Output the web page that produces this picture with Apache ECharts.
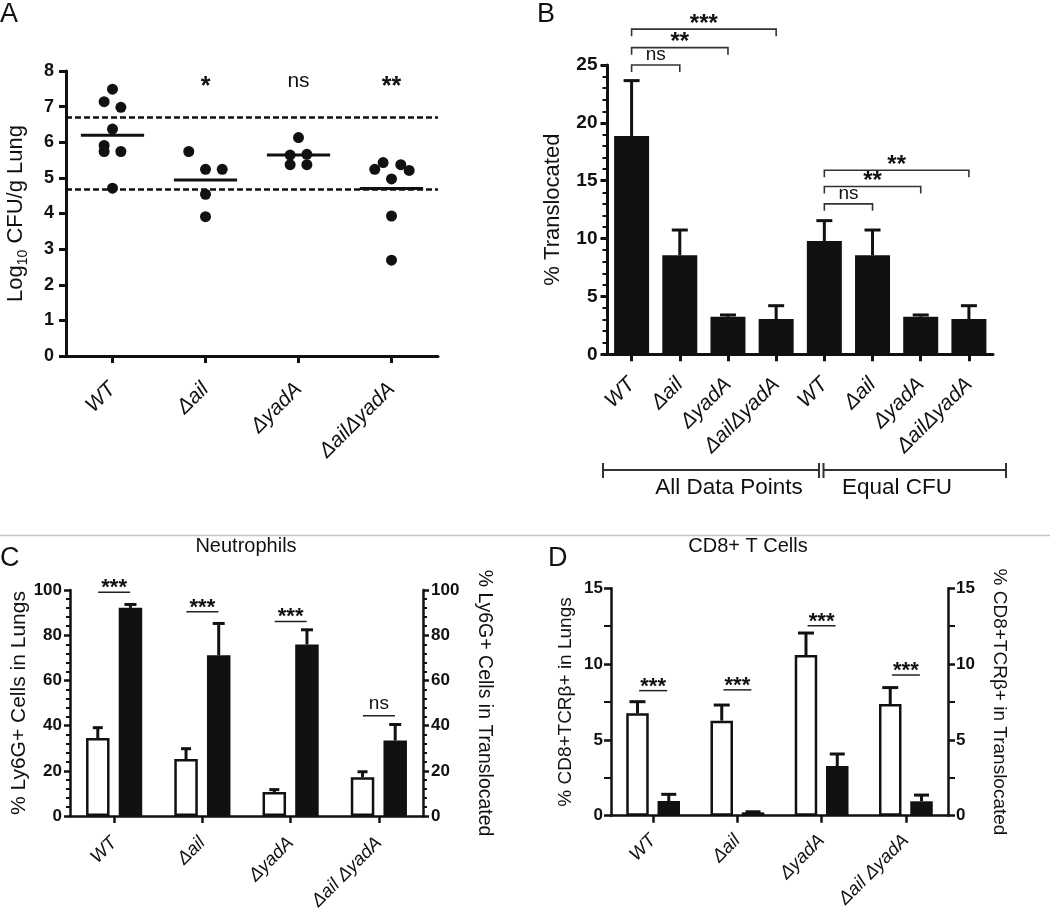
<!DOCTYPE html>
<html><head><meta charset="utf-8">
<script src="https://cdn.jsdelivr.net/npm/echarts@6/dist/echarts.min.js"></script>
<style>html,body{margin:0;padding:0;background:#fff}#c{width:1050px;height:913px}</style>
</head><body><div id="c"></div>
<script>
// ---------- DATA ----------
const categories = ['WT', 'Δail', 'ΔyadA', 'ΔailΔyadA'];
const categoriesCD = ['WT', 'Δail', 'ΔyadA', 'Δail ΔyadA'];
const categoriesB = ['WT', 'Δail', 'ΔyadA', 'ΔailΔyadA', 'WT', 'Δail', 'ΔyadA', 'ΔailΔyadA'];

// Panel A: each mouse = group index, horizontal jitter (category units), log10 CFU/g lung
const aGroup  = [0, 0, 0, 0, 0, 0, 0, 0,   1, 1, 1, 1, 1,   2, 2, 2, 2, 2,   3, 3, 3, 3, 3, 3, 3];
const aJitter = [0, -0.09, 0.09, 0, -0.09, -0.09, 0.09, 0,   -0.18, 0, 0.18, 0, 0,   0, -0.09, 0.09, -0.09, 0.09,   -0.18, -0.09, 0.1, 0.19, 0, 0, 0];
const aValues = [7.49, 7.14, 6.98, 6.37, 5.91, 5.74, 5.74, 4.71,   5.74, 5.24, 5.24, 4.54, 3.91,   6.13, 5.64, 5.66, 5.37, 5.37,   5.24, 5.43, 5.37, 5.21, 4.97, 3.93, 2.69];
const aMeans = [6.2, 4.94, 5.64, 4.7];
const aRefLines = [6.69, 4.69];
const aSigLabels = ['', '*', 'ns', '**'];
const aSigLevel = 7.7;

// Panel B: % translocated, mean and top of error bar
const bValues = [18.87, 8.55, 3.25, 3.05, 9.79, 8.55, 3.25, 3.05];
const bErrTop = [23.65, 10.74, 3.4, 4.2, 11.55, 10.74, 3.4, 4.2];
// [from category, to category, level, label]
const bBrackets = [[0, 1, 25.0, 'ns'], [0, 2, 26.5, '**'], [0, 3, 28.1, '***'],
                   [4, 5, 13.0, 'ns'], [4, 6, 14.5, '**'], [4, 7, 15.9, '**']];
const bGroupNames = ['All Data Points', 'Equal CFU'];

// Panel C: Neutrophils
const cLungs = [34.5, 25.2, 10.6, 17.2];
const cLungsErr = [39.1, 29.8, 11.7, 19.6];
const cTrans = [92.1, 71.1, 75.9, 33.4];
const cTransErr = [93.6, 85.2, 82.4, 40.5];
const cSigLevel = [99, 90.4, 86.1, 44.4];
const cSig = ['***', '***', '***', 'ns'];

// Panel D: CD8+ T cells
const dLungs = [6.75, 6.27, 10.6, 7.37];
const dLungsErr = [7.52, 7.3, 12.05, 8.45];
const dTrans = [0.97, 0.22, 3.28, 0.95];
const dTransErr = [1.41, 0.26, 4.07, 1.36];
const dSigLevel = [8.25, 8.3, 12.53, 9.28];
const dSig = ['***', '***', '***', '***'];

// ---------- STYLE ----------
const F = '"Liberation Sans", Arial, Helvetica, sans-serif';
const INK = '#111';

function catAxis(grid, data, o) {
  return {
    gridIndex: grid, type: 'category', data: data,
    axisLine: { show: true, onZero: false, lineStyle: { color: INK, width: o.lw } },
    axisTick: { show: true, alignWithLabel: true, length: 7, lineStyle: { color: INK, width: o.lw } },
    axisLabel: { interval: 0, rotate: 45, fontSize: o.fs, fontStyle: 'italic', fontFamily: F, color: INK, margin: o.margin },
    splitLine: { show: false }
  };
}
function valAxis(grid, o) {
  const ax = {
    gridIndex: grid, type: 'value', min: o.min, max: o.max, interval: o.interval,
    position: o.position || 'left',
    axisLine: { show: true, onZero: false, lineStyle: { color: INK, width: o.lw } },
    axisTick: { show: true, length: o.tick, lineStyle: { color: INK, width: o.lw } },
    axisLabel: { fontSize: o.fs, fontWeight: 'bold', fontFamily: F, color: INK, margin: o.margin },
    splitLine: { show: false },
    name: o.name, nameLocation: 'middle', nameGap: o.nameGap,
    nameTextStyle: Object.assign({ fontSize: o.nfs, fontFamily: F, color: INK }, o.nameStyle || {})
  };
  if (o.nameRotate !== undefined) ax.nameRotate = o.nameRotate;
  if (o.minor) ax.minorTick = { show: true, splitNumber: o.minor, length: o.minorLen, lineStyle: { color: INK, width: 2 } };
  return ax;
}

function errorRender(offsetPx, cap) {
  return function (params, api) {
    const i = api.value(0);
    const p0 = api.coord([i, api.value(1)]);
    const p1 = api.coord([i, api.value(2)]);
    const x = p0[0] + offsetPx;
    return { type: 'group', children: [
      { type: 'line', shape: { x1: x, y1: p0[1], x2: x, y2: p1[1] }, style: { stroke: INK, lineWidth: 3 } },
      { type: 'line', shape: { x1: x - cap / 2, y1: p1[1], x2: x + cap / 2, y2: p1[1] }, style: { stroke: INK, lineWidth: 3 } }
    ] };
  };
}
function sigRender(labels, halfLen) {
  return function (params, api) {
    const i = api.value(0);
    const p = api.coord([i, api.value(1)]);
    const lab = labels[params.dataIndex];
    const star = lab.indexOf('*') >= 0;
    return { type: 'group', children: [
      { type: 'line', shape: { x1: p[0] - halfLen, y1: p[1], x2: p[0] + halfLen, y2: p[1] }, style: { stroke: '#222', lineWidth: 1.5 } },
      { type: 'text', style: { text: lab, x: p[0], y: star ? p[1] + 7 : p[1] - 2, align: 'center', verticalAlign: 'bottom',
        textAlign: 'center', textVerticalAlign: 'bottom', fill: INK,
        font: (star ? 'bold 22px ' : '19px ') + F } }
    ] };
  };
}

const chart = echarts.init(document.getElementById('c'), null, { renderer: 'canvas' });

const BW_C = 23.5, GAP_C = 0.39, BW_D = 22.5, GAP_D = 0.39;

const option = {
  animation: false,
  backgroundColor: '#fff',
  textStyle: { fontFamily: F },
  grid: [
    { left: 66, top: 71, width: 372, height: 285 },
    { left: 607.5, top: 65, width: 385.5, height: 289.3 },
    { left: 70, top: 590, width: 353, height: 232.7 },
    { left: 611, top: 588.3, width: 337, height: 227.4 }
  ],
  xAxis: [
    catAxis(0, categories, { lw: 3, fs: 21, margin: 30 }),
    { gridIndex: 0, type: 'value', min: -0.5, max: 3.5, show: false },
    catAxis(1, categoriesB, { lw: 3, fs: 21, margin: 27 }),
    catAxis(2, categoriesCD, { lw: 2.5, fs: 18.5, margin: 24 }),
    catAxis(3, categoriesCD, { lw: 2.5, fs: 18.5, margin: 22 })
  ],
  yAxis: [
    valAxis(0, { min: 0, max: 8, interval: 1, lw: 3, tick: 7, fs: 18, margin: 12,
      name: '{a|Log}{s|10}{a| CFU/g Lung}', nameGap: 36, nfs: 22,
      nameStyle: { rich: { a: { fontSize: 22, fontFamily: F, color: INK, lineHeight: 28 },
                           s: { fontSize: 14, fontFamily: F, color: INK, lineHeight: 14, verticalAlign: 'bottom' } } } }),
    valAxis(1, { min: 0, max: 25, interval: 5, lw: 3, tick: 7, fs: 19, margin: 10, minor: 5, minorLen: 5,
      name: '% Translocated', nameGap: 44, nfs: 22 }),
    valAxis(2, { min: 0, max: 100, interval: 20, lw: 2.5, tick: 6, fs: 17, margin: 8, minor: 5, minorLen: 4,
      name: '% Ly6G+ Cells in Lungs', nameGap: 37, nfs: 21 }),
    valAxis(2, { min: 0, max: 100, interval: 20, lw: 2.5, tick: 6, fs: 17, margin: 8, minor: 5, minorLen: 4, position: 'right',
      name: '% Ly6G+ Cells in Translocated', nameGap: 51, nfs: 19.5, nameRotate: -90 }),
    valAxis(3, { min: 0, max: 15, interval: 5, lw: 2.5, tick: 7, fs: 17, margin: 8, minor: 2, minorLen: 7,
      name: '% CD8+TCRβ+ in Lungs', nameGap: 36, nfs: 19 }),
    valAxis(3, { min: 0, max: 15, interval: 5, lw: 2.5, tick: 7, fs: 17, margin: 8, minor: 2, minorLen: 7, position: 'right',
      name: '% CD8+TCRβ+ in Translocated', nameGap: 42, nfs: 19, nameRotate: -90 })
  ],
  series: [
    // ----- A -----
    { type: 'scatter', xAxisIndex: 1, yAxisIndex: 0, symbolSize: 11, itemStyle: { color: INK, opacity: 1 },
      data: aValues.map((v, i) => [aGroup[i] + aJitter[i], v]),
      markLine: { silent: true, symbol: 'none', label: { show: false },
        lineStyle: { color: INK, width: 2.5, type: [6, 3] },
        data: aRefLines.map(v => ({ yAxis: v })) } },
    { type: 'custom', xAxisIndex: 1, yAxisIndex: 0, clip: false,
      data: aMeans.map((m, i) => [i, m]),
      renderItem: (params, api) => {
        const i = api.value(0), m = api.value(1);
        const a = api.coord([i - 0.34, m]), b = api.coord([i + 0.34, m]);
        return { type: 'line', shape: { x1: a[0], y1: a[1], x2: b[0], y2: b[1] }, style: { stroke: INK, lineWidth: 3 } };
      } },
    { type: 'custom', xAxisIndex: 1, yAxisIndex: 0, clip: false,
      data: aSigLabels.map((s, i) => [i, aSigLevel]),
      renderItem: (params, api) => {
        const p = api.coord([api.value(0), api.value(1)]);
        const lab = aSigLabels[params.dataIndex];
        const star = lab.indexOf('*') >= 0;
        return { type: 'text', style: { text: lab, x: p[0], y: star ? p[1] + 5 : p[1], align: 'center', verticalAlign: 'middle',
          textAlign: 'center', textVerticalAlign: 'middle', fill: INK, font: (star ? 'bold 25px ' : '21px ') + F } };
      } },
    // ----- B -----
    { type: 'bar', xAxisIndex: 2, yAxisIndex: 1, barWidth: 35, itemStyle: { color: INK }, data: bValues, z: 3 },
    { type: 'custom', xAxisIndex: 2, yAxisIndex: 1, clip: false, z: 2,
      data: bValues.map((v, i) => [i, v, bErrTop[i]]), renderItem: errorRender(0, 16) },
    { type: 'custom', xAxisIndex: 2, yAxisIndex: 1, clip: false,
      data: bBrackets.map(b => [b[0], b[1], b[2]]),
      renderItem: (params, api) => {
        const a = api.coord([api.value(0), api.value(2)]);
        const b = api.coord([api.value(1), api.value(2)]);
        const lab = bBrackets[params.dataIndex][3];
        const star = lab.indexOf('*') >= 0;
        const leg = 7;
        return { type: 'group', children: [
          { type: 'polyline', shape: { points: [[a[0], a[1] + leg], [a[0], a[1]], [b[0], b[1]], [b[0], b[1] + leg]] },
            style: { stroke: '#333', lineWidth: 1.6, fill: null } },
          { type: 'text', style: { text: lab, x: (a[0] + b[0]) / 2, y: star ? a[1] + 7 : a[1] - 1, align: 'center', verticalAlign: 'bottom',
            textAlign: 'center', textVerticalAlign: 'bottom', fill: INK, font: (star ? 'bold 24px ' : '19px ') + F } }
        ] };
      } },
    // ----- C -----
    { type: 'bar', xAxisIndex: 3, yAxisIndex: 2, barWidth: BW_C, barGap: (GAP_C * 100) + '%', z: 3,
      itemStyle: { color: '#fff', borderColor: INK, borderWidth: 2.5 }, data: cLungs },
    { type: 'bar', xAxisIndex: 3, yAxisIndex: 2, barWidth: BW_C, barGap: (GAP_C * 100) + '%', z: 3,
      itemStyle: { color: INK }, data: cTrans },
    { type: 'custom', xAxisIndex: 3, yAxisIndex: 2, clip: false, z: 2,
      data: cLungs.map((v, i) => [i, v, cLungsErr[i]]), renderItem: errorRender(-BW_C * (1 + GAP_C) / 2, 10) },
    { type: 'custom', xAxisIndex: 3, yAxisIndex: 2, clip: false, z: 2,
      data: cTrans.map((v, i) => [i, v, cTransErr[i]]), renderItem: errorRender(BW_C * (1 + GAP_C) / 2, 12) },
    { type: 'custom', xAxisIndex: 3, yAxisIndex: 2, clip: false,
      data: cSigLevel.map((v, i) => [i, v]), renderItem: sigRender(cSig, 16) },
    // ----- D -----
    { type: 'bar', xAxisIndex: 4, yAxisIndex: 4, barWidth: BW_D, barGap: (GAP_D * 100) + '%', z: 3,
      itemStyle: { color: '#fff', borderColor: INK, borderWidth: 2.5 }, data: dLungs },
    { type: 'bar', xAxisIndex: 4, yAxisIndex: 4, barWidth: BW_D, barGap: (GAP_D * 100) + '%', z: 3,
      itemStyle: { color: INK }, data: dTrans },
    { type: 'custom', xAxisIndex: 4, yAxisIndex: 4, clip: false, z: 2,
      data: dLungs.map((v, i) => [i, v, dLungsErr[i]]), renderItem: errorRender(-BW_D * (1 + GAP_D) / 2, 16) },
    { type: 'custom', xAxisIndex: 4, yAxisIndex: 4, clip: false, z: 2,
      data: dTrans.map((v, i) => [i, v, dTransErr[i]]), renderItem: errorRender(BW_D * (1 + GAP_D) / 2, 15) },
    { type: 'custom', xAxisIndex: 4, yAxisIndex: 4, clip: false,
      data: dSigLevel.map((v, i) => [i, v]), renderItem: sigRender(dSig, 14) }
  ],
  graphic: [
    { type: 'text', left: 0, top: 1, style: { text: 'A', font: '27px ' + F, fill: INK } },
    { type: 'text', left: 537, top: 1, style: { text: 'B', font: '27px ' + F, fill: INK } },
    { type: 'text', left: 0, top: 545, style: { text: 'C', font: '27px ' + F, fill: INK } },
    { type: 'text', left: 548, top: 545, style: { text: 'D', font: '27px ' + F, fill: INK } },
    { type: 'line', shape: { x1: 0, y1: 535.5, x2: 1050, y2: 535.5 }, style: { stroke: '#c4c4c4', lineWidth: 1.5 } },
    { type: 'text', x: 246, y: 546, style: { text: 'Neutrophils', font: '20px ' + F, fill: INK, align: 'center', verticalAlign: 'middle' } },
    { type: 'text', x: 748, y: 546, style: { text: 'CD8+ T Cells', font: '20px ' + F, fill: INK, align: 'center', verticalAlign: 'middle' } },
    // B group brackets
    { type: 'line', shape: { x1: 603, y1: 463, x2: 603, y2: 478 }, style: { stroke: '#333', lineWidth: 2 } },
    { type: 'line', shape: { x1: 603, y1: 470, x2: 819, y2: 470 }, style: { stroke: '#333', lineWidth: 2 } },
    { type: 'line', shape: { x1: 819, y1: 463, x2: 819, y2: 478 }, style: { stroke: '#333', lineWidth: 2 } },
    { type: 'line', shape: { x1: 823.5, y1: 463, x2: 823.5, y2: 478 }, style: { stroke: '#333', lineWidth: 2 } },
    { type: 'line', shape: { x1: 823.5, y1: 470, x2: 1006, y2: 470 }, style: { stroke: '#333', lineWidth: 2 } },
    { type: 'line', shape: { x1: 1006, y1: 463, x2: 1006, y2: 478 }, style: { stroke: '#333', lineWidth: 2 } },
    { type: 'text', x: 729, y: 488, style: { text: bGroupNames[0], font: '22.5px ' + F, fill: INK, align: 'center', verticalAlign: 'middle' } },
    { type: 'text', x: 897, y: 488, style: { text: bGroupNames[1], font: '22.5px ' + F, fill: INK, align: 'center', verticalAlign: 'middle' } }
  ]
};
chart.setOption(option);
</script>
</body></html>
